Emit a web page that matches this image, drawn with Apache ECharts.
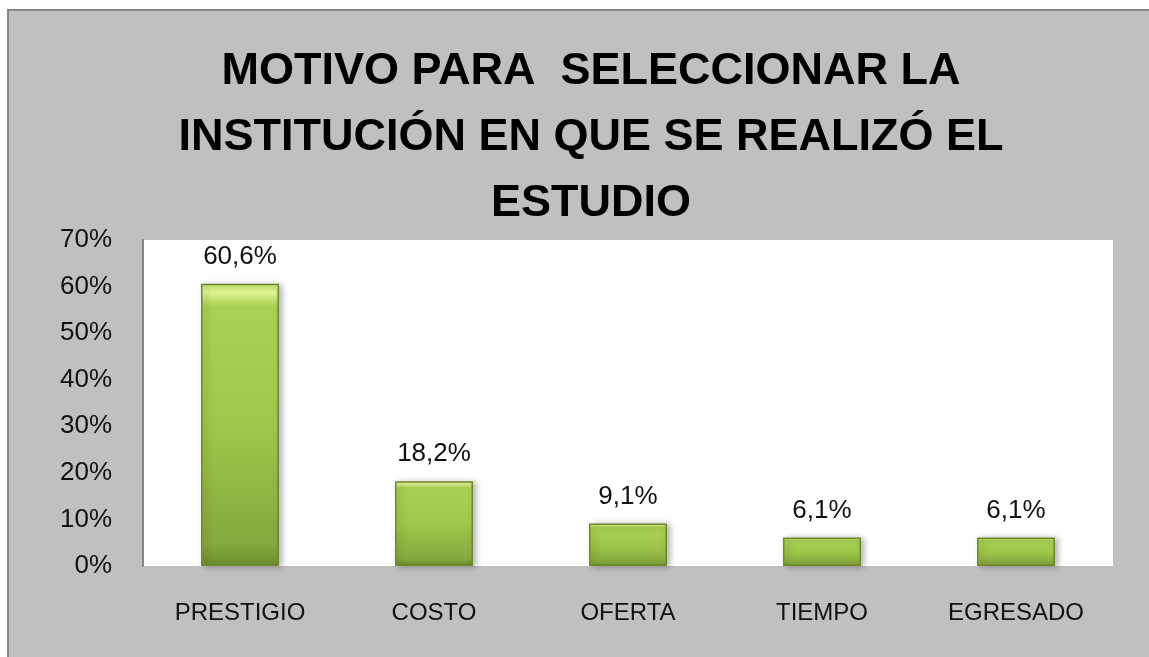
<!DOCTYPE html>
<html>
<head>
<meta charset="utf-8">
<script src="https://cdn.jsdelivr.net/npm/echarts@6/dist/echarts.min.js"></script>
<style>html,body{margin:0;padding:0;background:#fff;}#c{width:1149px;height:657px;}</style>
</head>
<body>
<div id="c"></div>
<script>
const titleText = 'MOTIVO PARA  SELECCIONAR LA\nINSTITUCIÓN EN QUE SE REALIZÓ EL\nESTUDIO';
const categories = ['PRESTIGIO', 'COSTO', 'OFERTA', 'TIEMPO', 'EGRESADO'];
const values = [60.6, 18.2, 9.1, 6.1, 6.1];
const yTicks = [0, 10, 20, 30, 40, 50, 60, 70];

const chart = echarts.init(document.getElementById('c'));
const font = 'Liberation Sans, Arial, sans-serif';
chart.setOption({
  backgroundColor: '#ffffff',
  animation: false,
  graphic: [{
    type: 'rect', z: -100,
    shape: { x: 8, y: 10, width: 1160, height: 680 },
    style: { fill: '#c0c0c0', stroke: '#858585', lineWidth: 2 }
  }],
  title: {
    text: titleText,
    left: 586, top: 34, textAlign: 'center',
    textStyle: { fontFamily: font, fontWeight: 'bold', fontSize: 45, lineHeight: 66, color: '#000' }
  },
  grid: {
    left: 143, right: 36, top: 240, bottom: 91,
    show: true, backgroundColor: '#ffffff', borderWidth: 0
  },
  xAxis: {
    type: 'category', data: categories,
    axisLine: { show: false }, axisTick: { show: false },
    axisLabel: { fontFamily: font, fontSize: 24, color: '#111', margin: 35 }
  },
  yAxis: {
    type: 'value', min: yTicks[0], max: yTicks[yTicks.length - 1], interval: 10,
    axisLine: { show: true, lineStyle: { color: '#868686', width: 2 } },
    axisTick: { show: false }, splitLine: { show: false },
    axisLabel: { fontFamily: font, fontSize: 26, color: '#111', margin: 31, formatter: v => v + '%' }
  },
  series: [{
    type: 'bar', data: values, barWidth: 78,
    itemStyle: {
      color: new echarts.graphic.LinearGradient(0, 0, 0, 1, [
        { offset: 0, color: '#c9ea74' },
        { offset: 0.03, color: '#dff593' },
        { offset: 0.08, color: '#a9d153' },
        { offset: 0.5, color: '#9fc74b' },
        { offset: 0.92, color: '#86a83d' },
        { offset: 1, color: '#6f8f2e' }
      ]),
      borderColor: '#6d8a2c', borderWidth: 1.5,
      shadowColor: 'rgba(0,0,0,0.3)', shadowBlur: 6, shadowOffsetX: 3, shadowOffsetY: 1
    },
    label: {
      show: true, position: 'top', distance: 14,
      fontFamily: font, fontSize: 26, color: '#111',
      formatter: p => p.value.toFixed(1).replace('.', ',') + '%'
    }
  }]
});
</script>
</body>
</html>
